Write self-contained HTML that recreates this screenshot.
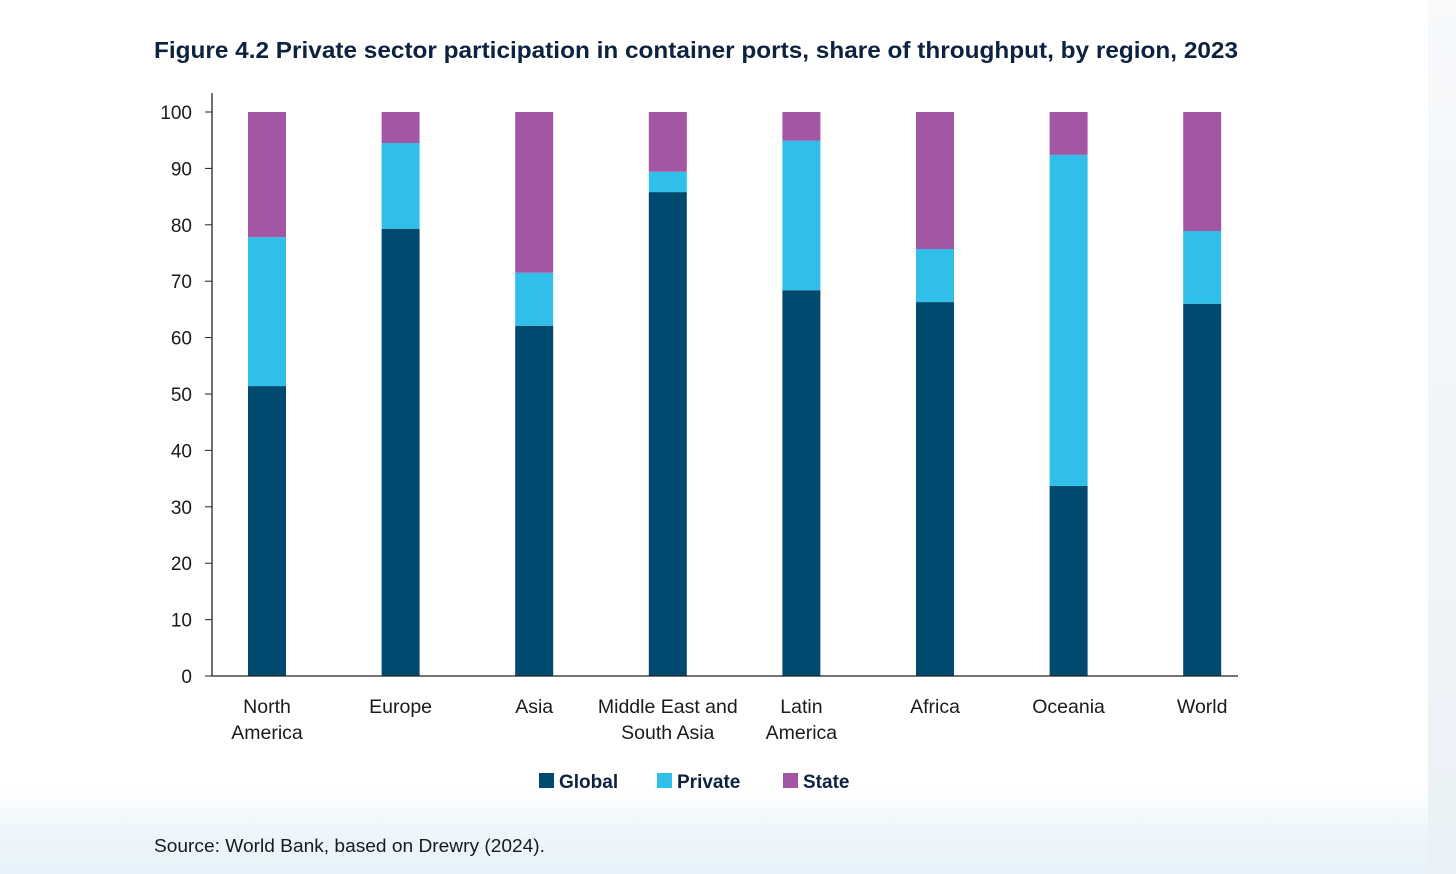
<!DOCTYPE html>
<html><head><meta charset="utf-8"><style>
html,body{margin:0;padding:0}
body{width:1456px;height:874px;overflow:hidden;background:linear-gradient(180deg,#fff 0,#fff 790px,#eef6fb 830px,#e6f2fa 874px);font-family:"Liberation Sans",sans-serif;position:relative}
.strip{position:absolute;left:1428px;top:0;width:28px;height:874px;background:linear-gradient(180deg,#f7f9fb,#eaf1f6)}
svg{position:absolute;left:0;top:0}
</style></head><body>
<div class="strip"></div>
<svg width="1456" height="874">
<text x="154" y="58" font-size="23" font-weight="bold" fill="#0d2240" textLength="1084" lengthAdjust="spacingAndGlyphs">Figure 4.2 Private sector participation in container ports, share of throughput, by region, 2023</text>
<g id="plot"></g>
<g>
<rect x="539" y="773" width="15" height="15" fill="#004a70"/>
<text x="559" y="788" font-size="19" font-weight="bold" fill="#0d2240">Global</text>
<rect x="657" y="773" width="15" height="15" fill="#2fbfe8"/>
<text x="677" y="788" font-size="19" font-weight="bold" fill="#0d2240">Private</text>
<rect x="783" y="773" width="15" height="15" fill="#a256a4"/>
<text x="803" y="788" font-size="19" font-weight="bold" fill="#0d2240">State</text>
</g>
<text x="154" y="852" font-size="18" fill="#1a1a1a" textLength="391" lengthAdjust="spacingAndGlyphs">Source: World Bank, based on Drewry (2024).</text>
</svg>
<script>
const categories=[["North","America"],["Europe"],["Asia"],["Middle East and","South Asia"],["Latin","America"],["Africa"],["Oceania"],["World"]];
const globalVals=[51.4,79.3,62.1,85.8,68.4,66.3,33.7,66.0];
const privateVals=[26.4,15.2,9.4,3.6,26.5,9.4,58.7,12.9];
const yTicks=[0,10,20,30,40,50,60,70,80,90,100];
const NS="http://www.w3.org/2000/svg";
const g=document.getElementById('plot');
const x0=212,x1=1238,y0=676,y100=112;
const y=v=>y0-(v/100)*(y0-y100);
const step=133.6,firstC=267,bw=38;
const xc=i=>firstC+i*step;
function mk(t,a){const e=document.createElementNS(NS,t);for(const k in a)e.setAttribute(k,a[k]);g.appendChild(e);return e;}
yTicks.forEach(v=>{
 const l=mk('line',{x1:205,x2:212,y1:y(v),y2:y(v),stroke:'#222','stroke-width':1});
 
 
 const t=mk('text',{x:192,y:y(v)+7,'font-size':19,'text-anchor':'end',fill:'#1a1a1a'});
 t.textContent=v;
 
 
});
categories.forEach((c,i)=>{
 const gv=globalVals[i],pv=privateVals[i];
 const segs=[[0,gv,'#004a70','global'],[gv,gv+pv,'#2fbfe8','private'],[gv+pv,100,'#a256a4','state']];
 segs.forEach(s=>{
  const r=mk('rect',{x:xc(i)-bw/2,y:y(s[1]),width:bw,height:y(s[0])-y(s[1]),fill:s[2]});
  
  
 });
 c.forEach((ln,j)=>{
  const t=mk('text',{x:xc(i),y:713+j*26,'font-size':19.5,'text-anchor':'middle',fill:'#1a1a1a'});
  t.textContent=ln;
  
  
 });
});
const ya=mk('line',{x1:x0,x2:x0,y1:93,y2:y0,stroke:'#222','stroke-width':1.3});


const xa=mk('line',{x1:x0,x2:x1,y1:y0,y2:y0,stroke:'#222','stroke-width':1.3});


</script>
</body></html>
